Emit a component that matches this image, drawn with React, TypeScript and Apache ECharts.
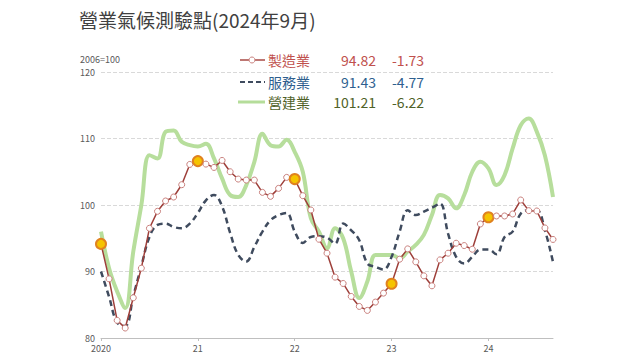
import React, { useEffect, useRef } from "react";
import * as echarts from "echarts";

const years = ["2020", "2021", "2022", "2023", "2024"];
const tickLabels = ["2020", "21", "22", "23", "24"];

const manufacturing = [
  94.15, 88.9, 82.65, 81.5, 86.05, 90.5, 96.5, 99.05, 100.6, 101.2, 103.05, 106.1,
  106.6, 106.15, 105.65, 106.7, 105.0, 103.9, 103.75, 103.75, 101.9, 101.3, 102.5, 104.15,
  103.9, 101.4, 99.25, 94.85, 92.75, 89.15, 88.2, 86.25, 84.75, 84.15, 85.4, 86.75,
  88.15, 91.85, 93.4, 91.45, 89.35, 87.85, 91.75, 92.75, 94.25, 93.9, 93.35, 97.15,
  98.15, 98.35, 98.35, 98.65, 100.75, 99.15, 99.1, 96.55, 94.82,
];
const services = [
  90.0, 86.2, 82.3, 81.8, 86.3, 90.8, 95.2, 97.0, 97.2, 96.7, 96.5, 97.2,
  98.8, 100.7, 101.5, 99.8, 95.8, 92.5, 91.5, 93.7, 96.0, 97.7, 98.5, 98.8,
  96.0, 94.3, 95.2, 95.3, 95.1, 94.2, 97.2, 96.2, 94.7, 91.2, 90.7, 90.3,
  92.2, 96.0, 99.2, 98.5, 99.0, 99.6, 100.2, 95.7, 92.2, 91.2, 92.2, 93.3,
  93.3, 92.6, 95.2, 96.0, 98.7, 99.2, 99.2, 96.2, 91.43,
];
const construction = [
  96.0, 90.5, 87.0, 84.5, 93.0, 100.0, 107.5, 107.0, 111.0, 111.2, 109.5, 109.0,
  108.8, 109.2, 107.0, 104.0, 101.5, 101.2, 103.0, 106.5, 110.7, 109.0, 108.8, 109.8,
  108.0, 105.0, 98.0, 96.0, 93.5, 96.5, 95.0, 90.0, 86.0, 88.5, 92.5, 92.5,
  92.5, 92.0, 93.0, 94.0, 95.5, 98.5, 101.5, 101.0, 99.5, 101.5, 105.0, 106.5,
  105.5, 103.0, 104.5, 108.5, 112.0, 113.0, 111.0, 107.43, 101.21,
];

const legendNames = ["製造業", "服務業", "營建業"];
const legendValues = ["94.82", "91.43", "101.21"];
const legendChanges = ["-1.73", "-4.77", "-6.22"];

const categories: string[] = [];
years.forEach((y) => {
  for (let m = 1; m <= 12; m++) categories.push(`${y}-${m}`);
});
categories.length = manufacturing.length;

const FONT = '"Noto Sans CJK TC", "Noto Sans", sans-serif';

export default function App() {
  const ref = useRef<HTMLDivElement>(null);
  useEffect(() => {
    if (!ref.current) return;
    const chart = echarts.init(ref.current, undefined, { renderer: "svg" });
    const textColors = ["#c0504d", "#2f5f8f", "#4f6228"];
    const rowsY = [60, 82, 102];
    const legendGraphics: any[] = [];
    rowsY.forEach((y, k) => {
      if (k === 0) {
        legendGraphics.push({ type: "line", shape: { x1: 240, y1: y, x2: 265, y2: y }, style: { stroke: "#a84a45", lineWidth: 1.5 } });
        legendGraphics.push({ type: "circle", shape: { cx: 252, cy: y, r: 3 }, style: { fill: "#fff", stroke: "#c9807d", lineWidth: 1 } });
      } else if (k === 1) {
        legendGraphics.push({ type: "line", shape: { x1: 240, y1: y, x2: 265, y2: y }, style: { stroke: "#3f4b5e", lineWidth: 2, lineDash: [5, 3] } });
      } else {
        legendGraphics.push({ type: "line", shape: { x1: 238, y1: y, x2: 265, y2: y }, style: { stroke: "#b5dd9a", lineWidth: 3 } });
      }
      legendGraphics.push({ type: "text", x: 268, y, style: { text: legendNames[k], fill: textColors[k], font: `14px ${FONT}`, textVerticalAlign: "middle" } });
      legendGraphics.push({ type: "text", x: 376, y, style: { text: legendValues[k], fill: textColors[k], font: `14px ${FONT}`, textAlign: "right", textVerticalAlign: "middle" } });
      legendGraphics.push({ type: "text", x: 392, y, style: { text: legendChanges[k], fill: textColors[k], font: `14px ${FONT}`, textVerticalAlign: "middle" } });
    });

    const mfgData = manufacturing.map((v, i) =>
      i % 12 === 0
        ? { value: v, symbolSize: 10, itemStyle: { color: "#f5c400", borderColor: "#e0821f", borderWidth: 2 } }
        : v
    );

    chart.setOption({
      animation: false,
      backgroundColor: "#ffffff",
      title: {
        text: "營業氣候測驗點(2024年9月)",
        left: 74,
        top: 5,
        textStyle: { fontFamily: FONT, fontSize: 19, fontWeight: "normal", color: "#404040" },
      },
      graphic: [
        { type: "text", x: 80, y: 59, style: { text: "2006=100", fill: "#595959", font: `9px ${FONT}`, textVerticalAlign: "middle" } },
        ...legendGraphics,
      ],
      grid: { left: 101, right: 87, top: 72, bottom: 22, containLabel: false },
      xAxis: {
        type: "category",
        data: categories,
        boundaryGap: false,
        axisLine: { lineStyle: { color: "#bfbfbf" } },
        axisTick: { interval: (i: number) => i % 12 === 0, lineStyle: { color: "#bfbfbf" }, length: 3 },
        axisLabel: {
          interval: (i: number) => i % 12 === 0,
          formatter: (_v: string, i: number) => tickLabels[Math.floor(i / 12)] ?? "",
          color: "#595959",
          fontSize: 9,
          fontFamily: FONT,
          margin: 6,
        },
      },
      yAxis: {
        type: "value",
        min: 80,
        max: 120,
        interval: 10,
        axisLine: { show: false },
        axisTick: { show: false },
        axisLabel: { color: "#595959", fontSize: 9, fontFamily: FONT, margin: 6 },
        splitLine: { lineStyle: { color: "#d9d9d9", type: "dashed" } },
      },
      series: [
        {
          name: "營建業",
          type: "line",
          data: construction,
          smooth: 0.4,
          symbol: "none",
          lineStyle: { color: "#b7de9c", width: 4 },
          z: 1,
        },
        {
          name: "服務業",
          type: "line",
          data: services,
          smooth: 0.4,
          symbol: "none",
          lineStyle: { color: "#3f4b5e", width: 2.5, type: [6, 4] },
          z: 2,
        },
        {
          name: "製造業",
          type: "line",
          data: mfgData,
          symbol: "circle",
          symbolSize: 6,
          showAllSymbol: true,
          itemStyle: { color: "#ffffff", borderColor: "#c9807d", borderWidth: 1 },
          lineStyle: { color: "#9e3f3a", width: 1.5 },
          z: 3,
        },
      ],
    });
    return () => chart.dispose();
  }, []);
  return <div ref={ref} style={{ position: "fixed", left: 0, top: 0, width: 640, height: 360 }} />;
}
